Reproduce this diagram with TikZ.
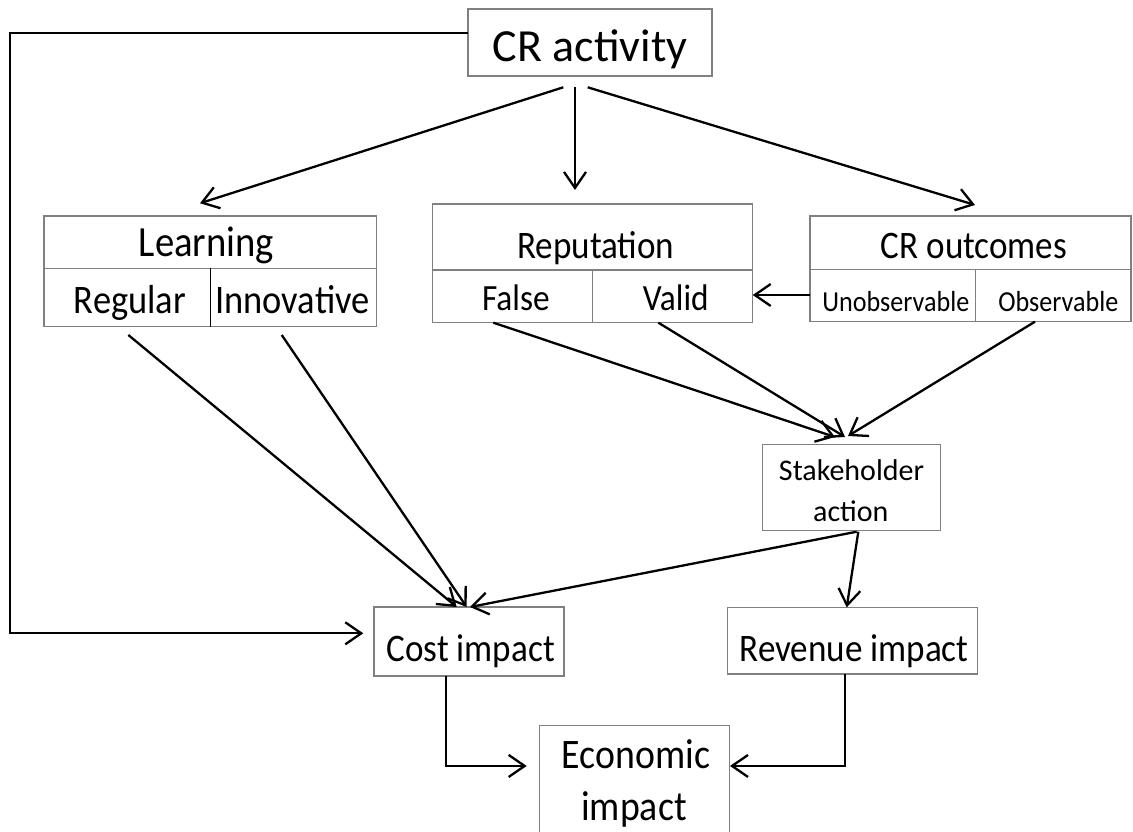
\documentclass[tikz,border=0pt]{standalone}
\usepackage{fontspec}
\setmainfont{Carlito}
\newfontfamily\condfont{Carlito}[FakeStretch=0.9]
\usetikzlibrary{arrows.meta}
\definecolor{boxgray}{RGB}{128,128,128}

\begin{document}
\begin{tikzpicture}[x=1pt,y=-1pt,
  frame/.style={draw=boxgray,line width=1.4pt,inner sep=0pt,outer sep=0pt},
  cellline/.style={draw=boxgray,line width=1.4pt},
  thinline/.style={draw=black,line width=0.9pt},
  lbl/.style={anchor=base,inner sep=0pt,outer sep=0pt},
  arr/.style={draw=black,line width=2.3pt,
    -{Straight Barb[length=16pt,width=22pt,line width=2.3pt]}},
  conn/.style={draw=black,line width=2.3pt}]

\useasboundingbox (0,0) rectangle (1133,831);
\clip (0,0) rectangle (1133,831);

% ---- boxes ----
\node[frame,minimum width=244pt,minimum height=67pt]    (crA)   at (590,42.5) {};
\node[frame,minimum width=332.7pt,minimum height=110.7pt] (learn) at (210.3,271.3) {};
\node[frame,minimum width=320pt,minimum height=118.7pt] (rep)   at (592.7,263.3) {};
\node[frame,minimum width=321pt,minimum height=105.7pt] (out)   at (970.5,268.8) {};
\node[frame,minimum width=178pt,minimum height=86.4pt]  (stake) at (851.7,487.5) {};
\node[frame,minimum width=190pt,minimum height=69pt]    (cost)  at (469,641.5) {};
\node[frame,minimum width=249.6pt,minimum height=66.7pt] (rev)  at (852.5,640.7) {};
\node[frame,minimum width=190pt,minimum height=125.3pt] (econ)  at (634.3,788.35) {};

% ---- cell divisions ----
\draw[cellline] ([yshift=3pt]learn.west) -- ([yshift=3pt]learn.east);
\draw[thinline] ([yshift=3pt]learn.center) -- (learn.south);
\draw[cellline] ([yshift=-6.7pt]rep.west) -- ([yshift=-6.7pt]rep.east);
\draw[cellline] ([yshift=-6.7pt]rep.center) -- (rep.south);
\draw[cellline] ([yshift=-0.5pt]out.west) -- ([yshift=-0.5pt]out.east);
\draw[cellline] ([xshift=4.8pt,yshift=-0.5pt]out.center) -- ([xshift=4.8pt]out.south);

% ---- texts ----
\node[lbl,font=\fontsize{46}{55}\selectfont] (tcrA) at (590,61.7) {CR activity};
\node[lbl,font=\condfont\fontsize{43}{52}\selectfont] (tlearn) at (206.5,256.7) {Learning};
\node[lbl,font=\condfont\fontsize{40.5}{49}\selectfont] (treg) at (130,313.3) {Regular};
\node[lbl,font=\condfont\fontsize{40.5}{49}\selectfont] (tinn) at (292.5,313.3) {Innovative};
\node[lbl,font=\condfont\fontsize{39}{47}\selectfont] (trep) at (595.8,258.3) {Reputation};
\node[lbl,font=\condfont\fontsize{37}{45}\selectfont] (tfalse) at (515.8,310) {False};
\node[lbl,font=\condfont\fontsize{37}{45}\selectfont] (tvalid) at (675.8,310) {Valid};
\node[lbl,font=\condfont\fontsize{39}{47}\selectfont] (tout) at (974,258.3) {CR outcomes};
\node[lbl,font=\condfont\fontsize{29}{35}\selectfont] (tunobs) at (895.8,311.7) {Unobservable};
\node[lbl,font=\condfont\fontsize{29}{35}\selectfont] (tobs) at (1058.3,311.7) {Observable};
\node[lbl,font=\fontsize{30}{36}\selectfont] (tstake1) at (851.5,480) {Stakeholder};
\node[lbl,font=\fontsize{30}{36}\selectfont] (tstake2) at (850.8,521.7) {action};
\node[lbl,font=\condfont\fontsize{39}{47}\selectfont] (tcost) at (470.8,661.7) {Cost impact};
\node[lbl,font=\condfont\fontsize{39}{47}\selectfont] (trev) at (854,661.7) {Revenue impact};
\node[lbl,font=\condfont\fontsize{42}{50}\selectfont] (tecon1) at (636,768.3) {Economic};
\node[lbl,font=\condfont\fontsize{42}{50}\selectfont] (tecon2) at (634,820) {impact};

% ---- connectors ----
\draw[arr] ([xshift=-26.7pt,yshift=-11.3pt]crA.south) -- ([xshift=-10.3pt,yshift=12.7pt]learn.north);
\draw[arr] ([xshift=-15pt,yshift=-11.3pt]crA.south) -- ([xshift=-17.7pt,yshift=14pt]rep.north);
\draw[arr] ([xshift=-2.3pt,yshift=-11.3pt]crA.south) -- ([xshift=4.5pt,yshift=11pt]out.north);
\draw[arr] ([yshift=9.2pt]crA.west) -- ++(-458,0) |- ([xshift=-10.7pt,yshift=8.2pt]cost.west);

\coordinate (unobs) at ([yshift=-26.2pt]out.west);
\draw[arr] (unobs) -- (unobs -| rep.east);

\draw[arr] ([xshift=-82pt,yshift=-8.3pt]learn.south) -- ([xshift=-12.3pt]cost.north);
\draw[arr] ([xshift=71.4pt,yshift=-8.3pt]learn.south) -- ([xshift=-2.3pt]cost.north);

\draw[arr] ([xshift=-99.4pt]rep.south) -- ([xshift=-16.7pt,yshift=7.3pt]stake.north);
\draw[arr] ([xshift=65.6pt]rep.south) -- ([xshift=-6.7pt,yshift=7.3pt]stake.north);
\draw[arr] ([xshift=64.5pt]out.south) -- ([xshift=-3.7pt,yshift=8.3pt]stake.north);

\draw[arr] ([xshift=5pt,yshift=-1pt]stake.south) -- ([xshift=1pt]cost.north);
\draw[arr] ([xshift=6.6pt,yshift=-1pt]stake.south) -- ([xshift=-5.8pt]rev.north);

\draw[arr] ([xshift=-23pt]cost.south) |- ([xshift=-12.6pt,yshift=22.4pt]econ.west);
\draw[arr] ([xshift=-7.5pt]rev.south) |- ([xshift=0.7pt,yshift=22.4pt]econ.east);

\end{tikzpicture}
\end{document}
